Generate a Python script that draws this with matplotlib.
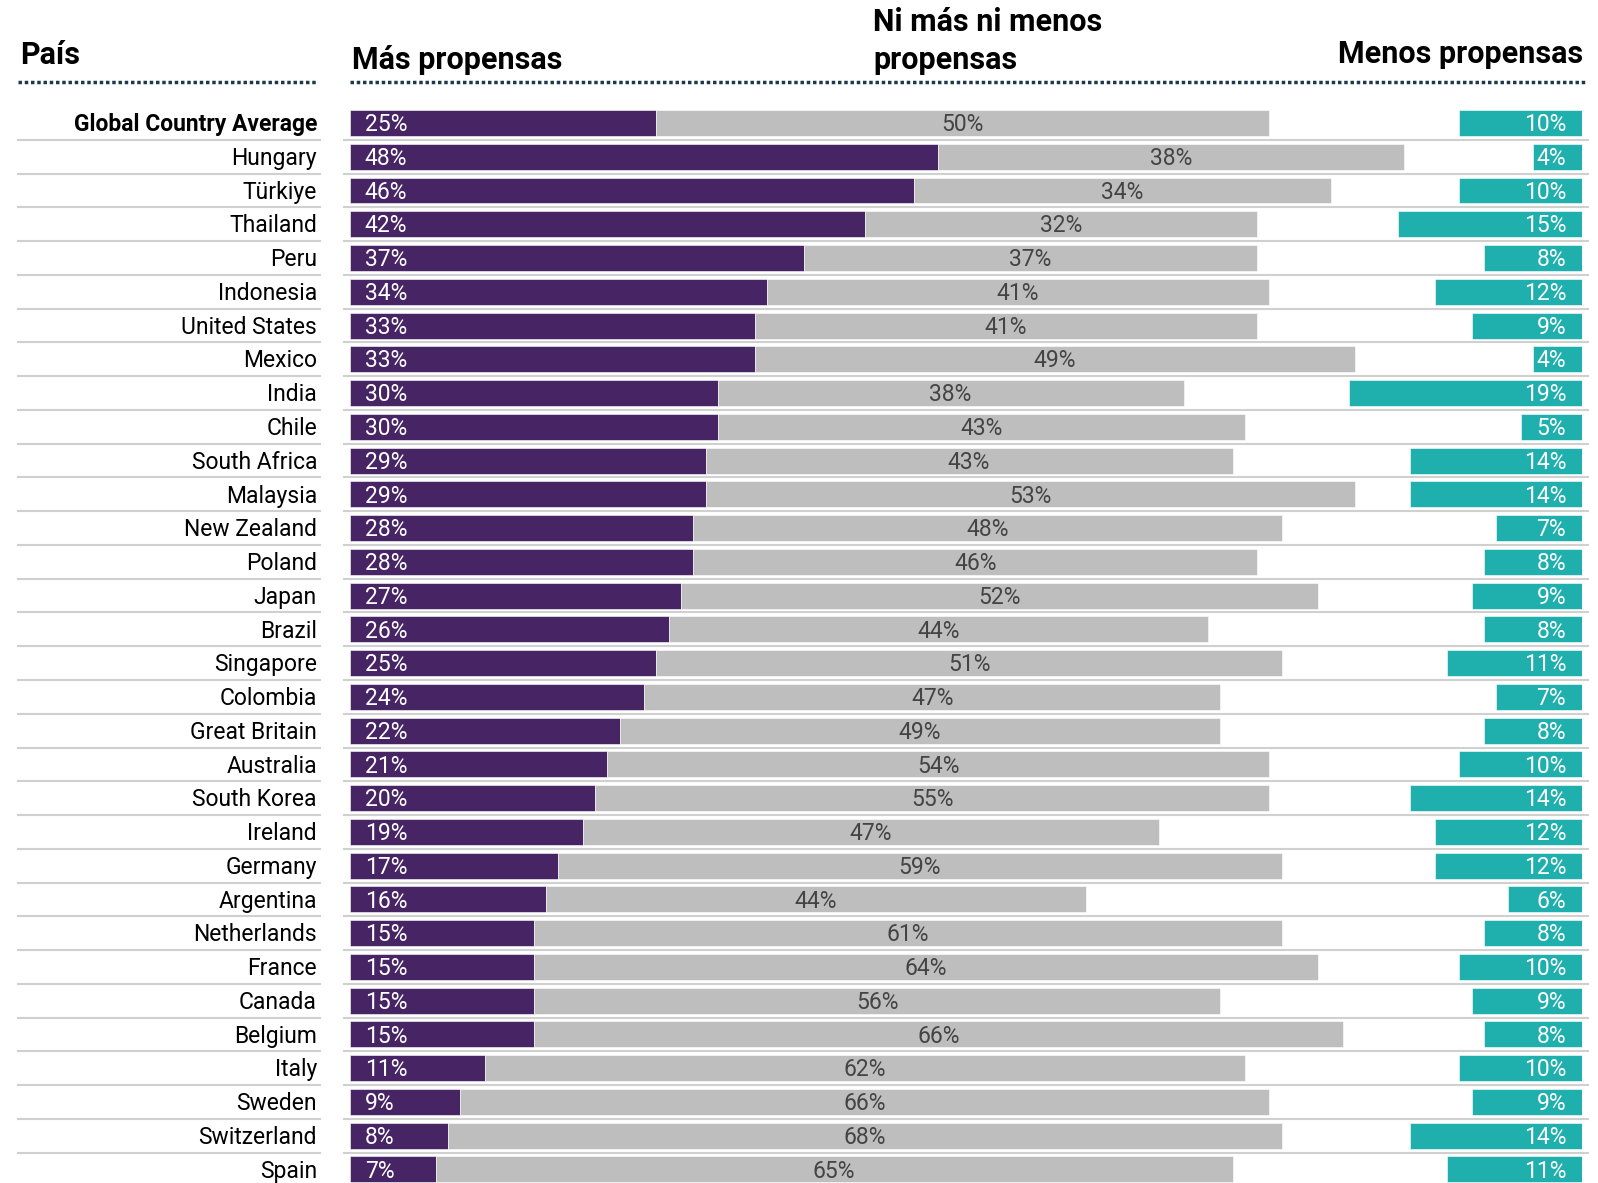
import matplotlib
matplotlib.use("Agg")
import matplotlib.pyplot as plt
from matplotlib.transforms import blended_transform_factory

plt.rcParams['font.family'] = ['Roboto', 'DejaVu Sans']

countries = ['Global Country Average', 'Hungary', 'Türkiye', 'Thailand', 'Peru', 'Indonesia',
             'United States', 'Mexico', 'India', 'Chile', 'South Africa', 'Malaysia',
             'New Zealand', 'Poland', 'Japan', 'Brazil', 'Singapore', 'Colombia',
             'Great Britain', 'Australia', 'South Korea', 'Ireland', 'Germany', 'Argentina',
             'Netherlands', 'France', 'Canada', 'Belgium', 'Italy', 'Sweden', 'Switzerland', 'Spain']
mas = [25, 48, 46, 42, 37, 34, 33, 33, 30, 30, 29, 29, 28, 28, 27, 26, 25, 24, 22, 21, 20,
       19, 17, 16, 15, 15, 15, 15, 11, 9, 8, 7]
ni = [50, 38, 34, 32, 37, 41, 41, 49, 38, 43, 43, 53, 48, 46, 52, 44, 51, 47, 49, 54, 55,
      47, 59, 44, 61, 64, 56, 66, 62, 66, 68, 65]
menos = [10, 4, 10, 15, 8, 12, 9, 4, 19, 5, 14, 14, 7, 8, 9, 8, 11, 7, 8, 10, 14,
         12, 12, 6, 8, 10, 9, 8, 10, 9, 14, 11]

PURPLE = '#472565'
GRAY = '#bebebe'
TEAL = '#1fb0ad'
NAVY = '#1d3a4c'
W, H = 1598, 1183
RIGHT = 100.5

fig = plt.figure(figsize=(W / 100, H / 100), dpi=100)
ax = fig.add_axes([350 / W, 0, (1582 - 350) / W, 1])
ax.set_xlim(0, RIGHT)
ax.set_ylim(31.40, -3.643)
ax.axis('off')

rows = list(range(len(countries)))
ax.barh(rows, mas, height=0.77, color=PURPLE, edgecolor='white', linewidth=0.4)
ax.barh(rows, ni, left=mas, height=0.77, color=GRAY, edgecolor='white', linewidth=0.4)
ax.barh(rows, menos, left=[RIGHT - v for v in menos], height=0.77, color=TEAL,
        edgecolor='white', linewidth=0.4)

fx = blended_transform_factory(fig.transFigure, ax.transData)
for i, c in enumerate(countries):
    ax.text(1.2, i + 0.05, f'{mas[i]}%', color='white', fontsize=16.5, va='center', ha='left')
    ax.text(mas[i] + ni[i] / 2, i + 0.05, f'{ni[i]}%', color='#444444', fontsize=16.5,
            va='center', ha='center')
    ax.text(RIGHT - 1.3, i + 0.05, f'{menos[i]}%', color='white', fontsize=16.5,
            va='center', ha='right')
    ax.text(317 / W, i + 0.05, c, transform=fx, fontsize=16.5, va='center', ha='right',
            color='black', fontweight='bold' if i == 0 else 'normal')
    if i < len(countries) - 1:
        ax.plot([18 / W, 320 / W], [i + 0.5, i + 0.5], transform=fx, color='#d0d0d0',
                lw=1.5, clip_on=False)
        ax.plot([344 / W, 1588 / W], [i + 0.5, i + 0.5], transform=fx, color='#d0d0d0',
                lw=1.5, clip_on=False)

# dotted header rules
yd = -1.21
ax.plot([18 / W, 318 / W], [yd, yd], transform=fx, color=NAVY, lw=2.5,
        dashes=(1.0, 0.8), clip_on=False)
ax.plot([350 / W, 1585 / W], [yd, yd], transform=fx, color=NAVY, lw=2.5,
        dashes=(1.0, 0.8), clip_on=False)

hdr = dict(fontsize=22, fontweight='bold', color='black', va='center')
fig.text(20 / W, 1 - 55 / H, 'País', ha='left', **hdr)
fig.text(352 / W, 1 - 60 / H, 'Más propensas', ha='left', **hdr)
fig.text(873 / W, 1 - 22 / H, 'Ni más ni menos', ha='left', **hdr)
fig.text(873 / W, 1 - 60 / H, 'propensas', ha='left', **hdr)
fig.text(1583 / W, 1 - 54 / H, 'Menos propensas', ha='right', **hdr)

fig.savefig('out.png', dpi=100)
